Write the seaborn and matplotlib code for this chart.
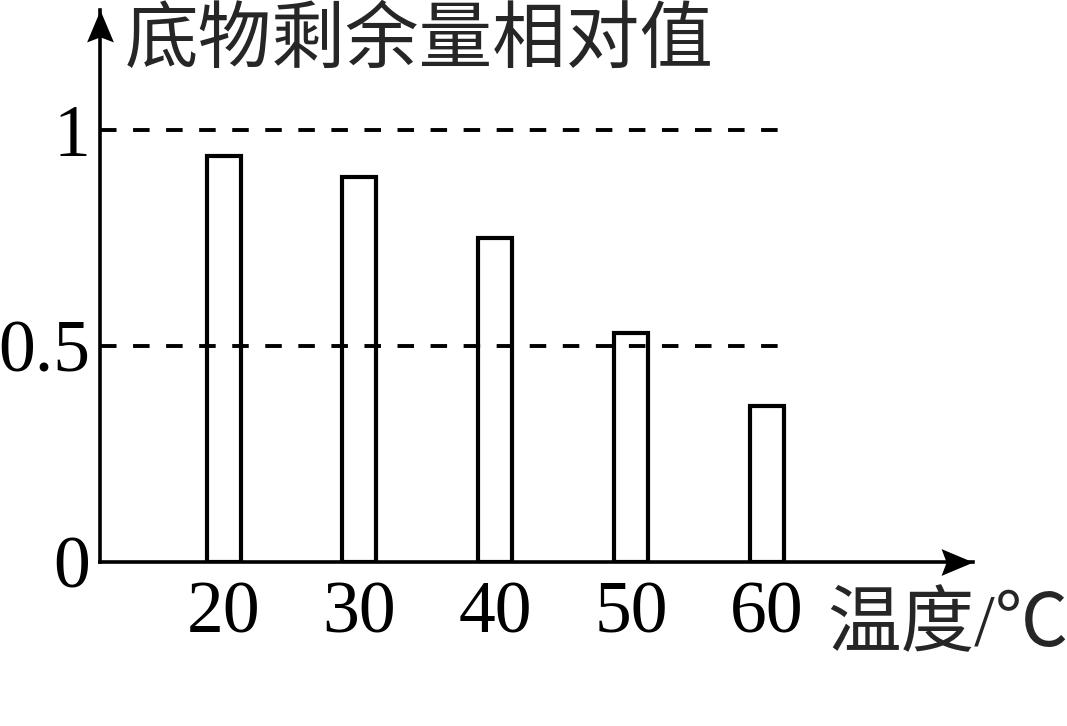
import matplotlib
matplotlib.use("Agg")
import matplotlib.pyplot as plt
import seaborn as sns
import pandas as pd

# ── data ─────────────────────────────────────────────────────────────────────
temps = ["20", "30", "40", "50", "60"]
remaining = [0.94, 0.89, 0.75, 0.53, 0.36]
y_ticks = [0, 0.5, 1]
y_tick_labels = ["0", "0.5", "1"]
y_title = "底物剩余量相对值"
x_title = "温度/℃"

sns.set_theme(style="white")
plt.rcParams["font.family"] = ["Liberation Serif", "Noto Sans CJK SC"]

df = pd.DataFrame({"temp": temps, "value": remaining})

W, H = 1067, 726
fig = plt.figure(figsize=(W / 100, H / 100), dpi=100)
# axes box: y-axis at x=100px, x-axis at y=561.5px, arrow tips at x=973 / y=10
ax = fig.add_axes([100 / W, (H - 561.5) / H, (973 - 100) / W, (561.5 - 10) / H])

sns.barplot(data=df, x="temp", y="value", order=temps, color="white",
            saturation=1, edgecolor="black", linewidth=3.0, width=0.25,
            ax=ax, zorder=2)

ax.set_xlim(-0.91, 5.52)
ax.set_ylim(0, 1.278)

# dashed reference lines at 0.5 and 1, ending just past the last bar
x_end = (len(temps) - 1 + 0.13 + 0.91) / (5.52 + 0.91)
for level in y_ticks[1:]:
    ax.axhline(level, xmin=0, xmax=x_end, color="black", linewidth=2.8,
               dashes=(4.25, 4.25), dash_capstyle="butt", zorder=3)

ax.set_yticks(y_ticks, y_tick_labels)
ax.set_xlabel("")
ax.set_ylabel("")

for side in ["top", "right"]:
    ax.spines[side].set_visible(False)
for side in ["left", "bottom"]:
    ax.spines[side].set_linewidth(2.6)
    ax.spines[side].set_color("black")

ax.tick_params(axis="both", length=0, labelsize=53, colors="black")
ax.tick_params(axis="y", pad=7)
ax.tick_params(axis="x", pad=14)

# arrow heads on the axes
right_arrow = [(0, 0), (-1, 0.42), (-0.84, 0), (-1, -0.42), (0, 0)]
up_arrow = [(0, 0), (0.42, -1), (0, -0.84), (-0.42, -1), (0, 0)]
ax.plot(1, 0, marker=right_arrow, ms=46, color="black", mew=0,
        transform=ax.transAxes, clip_on=False)
ax.plot(0, 1, marker=up_arrow, ms=46, color="black", mew=0,
        transform=ax.transAxes, clip_on=False)

fig.text(125 / W, 1 - 44 / H, y_title, fontsize=53, ha="left", va="center")
fig.text(827 / W, 1 - 628 / H, x_title, fontsize=53, ha="left", va="center")

fig.savefig("out.png", dpi=100)
plt.close(fig)
